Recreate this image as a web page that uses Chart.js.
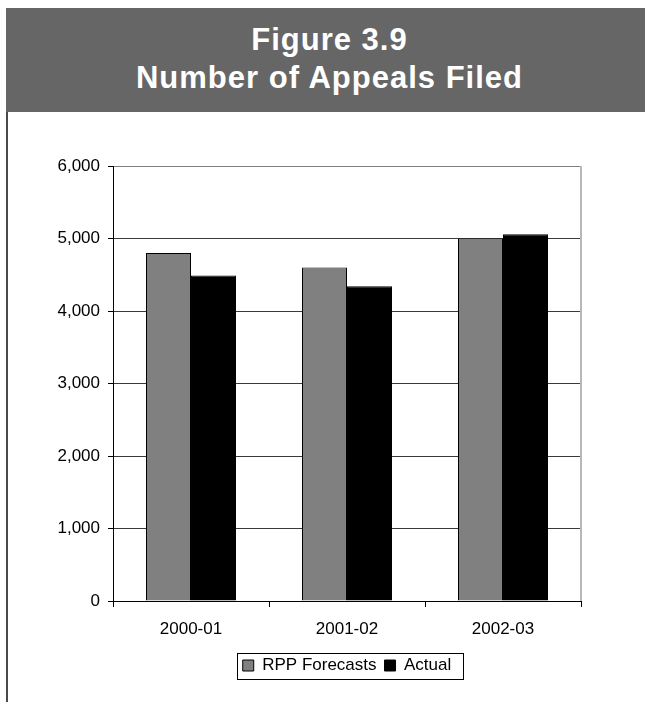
<!DOCTYPE html>
<html>
<head>
<meta charset="utf-8">
<script src="https://cdn.jsdelivr.net/npm/chart.js@4"></script>
<style>
  body { margin: 0; background: #fff; width: 645px; height: 702px; position: relative; overflow: hidden; }
  .fig-head {
    position: absolute; left: 6px; top: 8px; width: 639px; height: 104px;
    background: #666666; color: #fff; text-align: center;
    font-family: "Liberation Sans", Arial, sans-serif; font-weight: bold; font-size: 31px;
    letter-spacing: 1px; line-height: 38px; box-sizing: border-box; padding-top: 13px; padding-left: 8px;
  }
  .fig-rule { position: absolute; left: 6px; top: 112px; width: 2px; bottom: 0; background: #4a4a4a; }
  #myChart { position: absolute; left: 8px; top: 112px; }
</style>
</head>
<body>
<div class="fig-head">Figure 3.9<br>Number of Appeals Filed</div>
<div class="fig-rule"></div>
<canvas id="myChart" width="637" height="590"></canvas>
<script>
const categories = ['2000-01', '2001-02', '2002-03'];
const rppForecasts = [4800, 4600, 5000];
const actual = [4490, 4340, 5060];
const yMax = 6000;
const yStep = 1000;

// outline round the legend and the light right edge of the plot
const frame = {
  id: 'frame',
  afterDraw(chart) {
    const c = chart.ctx;
    const a = chart.chartArea;
    c.save();
    c.strokeStyle = '#b8b8b8';
    c.lineWidth = 2;
    c.beginPath();
    c.moveTo(a.right, a.top);
    c.lineTo(a.right, a.bottom);
    c.stroke();

    const boxes = chart.legend.legendHitBoxes;
    if (boxes && boxes.length) {
      const first = boxes[0];
      const last = boxes[boxes.length - 1];
      const l = first.left - 6;
      const r = last.left + last.width + 11;
      const t = first.top - 4;
      const b = first.top + first.height + 5;
      c.strokeStyle = '#000';
      c.lineWidth = 1;
      c.strokeRect(Math.round(l) + 0.5, Math.round(t) + 0.5, Math.round(r - l), Math.round(b - t));
    }
    c.restore();
  }
};

const ctx = document.getElementById('myChart');
new Chart(ctx, {
  type: 'bar',
  data: {
    labels: categories,
    datasets: [{
      label: 'RPP Forecasts',
      data: rppForecasts,
      backgroundColor: '#808080',
      borderColor: '#000',
      borderWidth: 1,
      borderSkipped: 'bottom'
    }, {
      label: 'Actual',
      data: actual,
      backgroundColor: '#000',
      borderColor: '#000',
      borderWidth: 1,
      borderSkipped: 'bottom'
    }]
  },
  options: {
    responsive: false,
    animation: false,
    events: [],
    layout: { padding: { left: 0, right: 64, top: 54, bottom: 18 } },
    datasets: { bar: { barPercentage: 1, categoryPercentage: 0.577 } },
    font: { family: '"Liberation Sans", Arial, sans-serif', size: 17 },
    scales: {
      x: {
        grid: { drawOnChartArea: false, tickLength: 6, color: '#000', offset: true },
        border: { color: '#000', width: 1 },
        ticks: { color: '#000', padding: 12, font: { size: 17 } },
        afterFit(scale) { scale.height = 48; }
      },
      y: {
        min: 0,
        max: yMax,
        ticks: {
          stepSize: yStep,
          color: '#000',
          padding: 8,
          font: { size: 17 },
          callback: (v) => v.toLocaleString('en-US')
        },
        grid: {
          color: (c) => c.tick && c.tick.value === yMax ? '#808080' : '#3a3a3a',
          tickColor: '#000',
          tickLength: 5
        },
        border: { color: '#000', width: 1 },
        afterFit(scale) { scale.width = 105; }
      }
    },
    plugins: {
      legend: {
        position: 'bottom',
        fullSize: false,
        labels: {
          color: '#000',
          boxWidth: 11,
          boxHeight: 11,
          padding: 8,
          font: { size: 17 }
        }
      },
      title: { display: false },
      tooltip: { enabled: false }
    }
  },
  plugins: [frame]
});
</script>
</body>
</html>
